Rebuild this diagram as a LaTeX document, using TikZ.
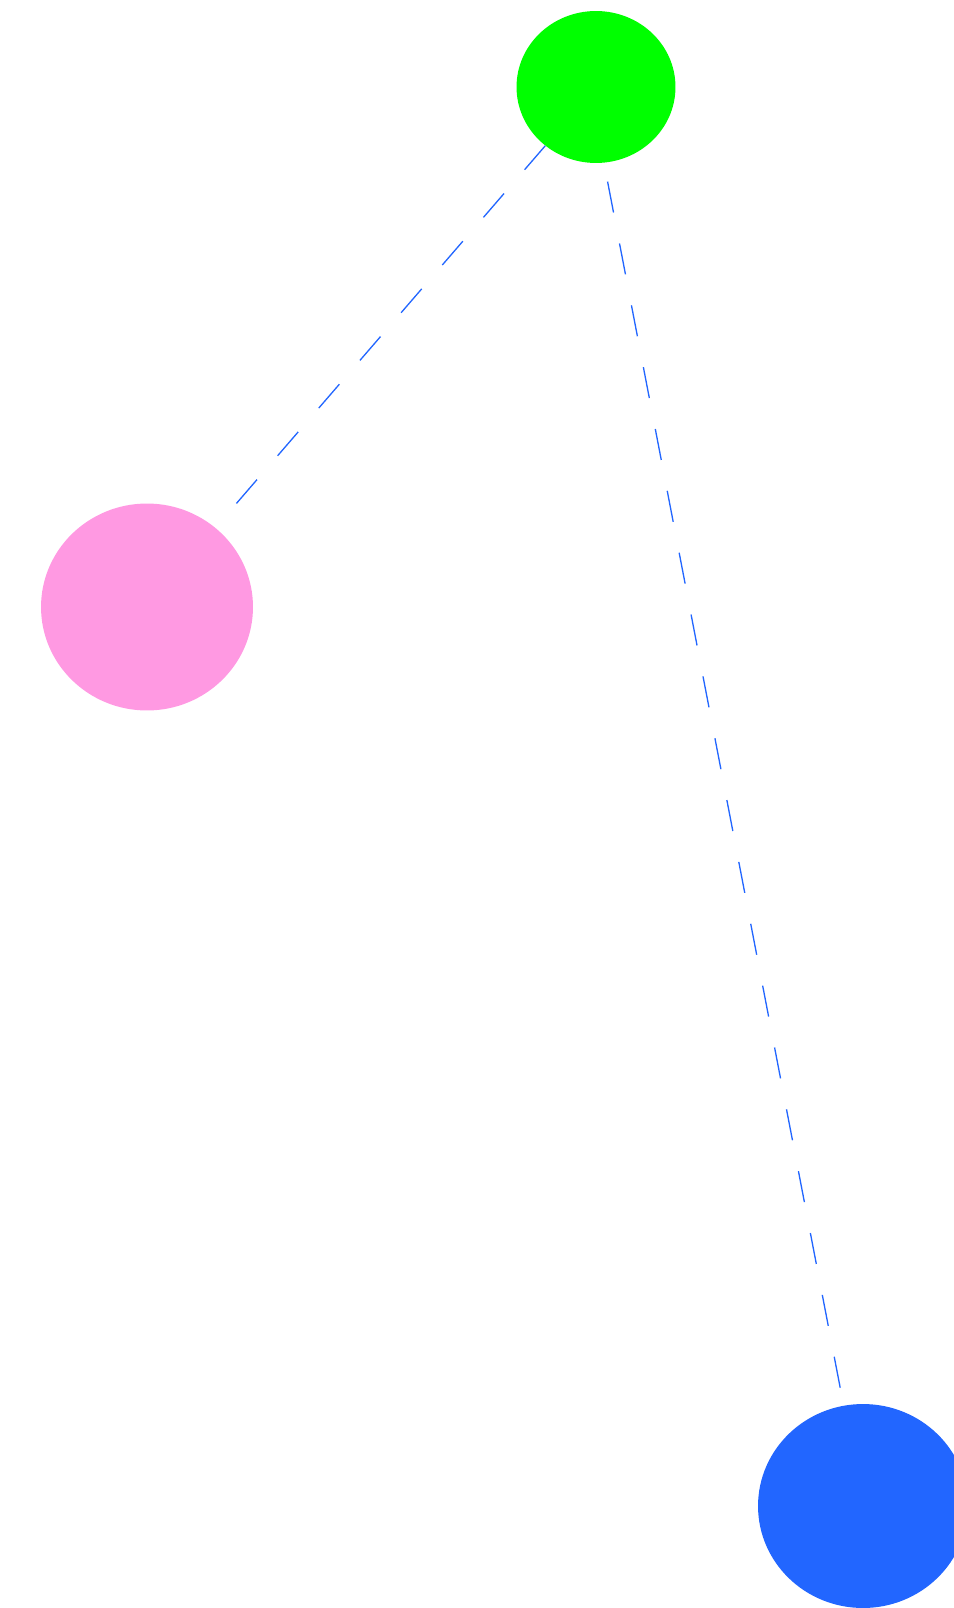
\documentclass[tikz,border=0pt]{standalone}
\usepackage{xcolor}
\usepackage{tikz}
\usetikzlibrary{shapes.geometric}
\definecolor{DotGreen}{HTML}{00FF00}
\definecolor{DotPink}{HTML}{FF99E2}
\definecolor{DotBlue}{HTML}{2266FF}
\begin{document}
\begin{tikzpicture}[x=0.02cm,y=-0.02cm,
  dot/.style={ellipse,inner sep=0pt,draw=none},
  link/.style={DotBlue,line width=0.75pt,dash pattern=on 0.63cm off 0.63cm}]
\path[use as bounding box] (0,0) rectangle (953,1608);
\node[dot,fill=DotGreen,minimum width=3.18cm,minimum height=3.04cm] (green) at (596,87) {};
\node[dot,fill=DotPink,minimum width=4.24cm,minimum height=4.14cm] (pink) at (147,607) {};
\node[dot,fill=DotBlue,minimum width=4.20cm,minimum height=4.08cm] (blue) at (863,1506) {};
\draw[link,shorten >=0.08cm] (green) -- (pink);
\draw[link,dash phase=0.88cm] (green.276) -- (blue);
\end{tikzpicture}
\end{document}
